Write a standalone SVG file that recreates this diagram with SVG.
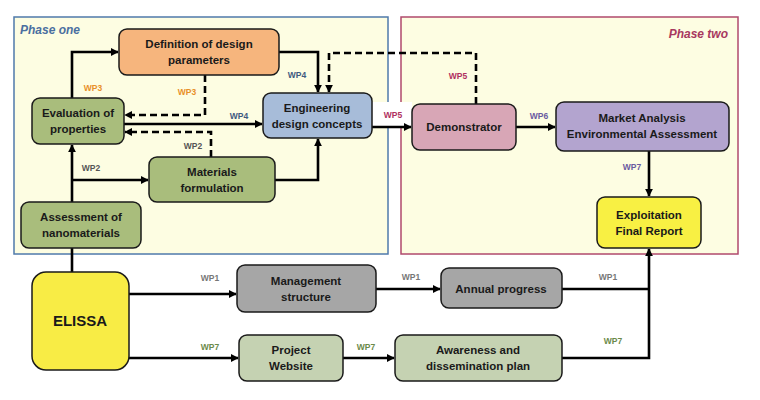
<svg xmlns="http://www.w3.org/2000/svg" width="760" height="400" viewBox="0 0 760 400">
<defs>
<marker id="ah" viewBox="0 0 10 10" refX="9" refY="5" markerWidth="3" markerHeight="3" orient="auto" markerUnits="strokeWidth">
<path d="M0,0 L10,5 L0,10 z" fill="#000"/>
</marker>
<style>
.node rect{stroke:#1a1a1a;stroke-width:1.5}
.node text{font-family:"Liberation Sans",Arial,sans-serif;font-weight:bold;font-size:11.5px;fill:#1a1a1a;text-anchor:middle}
.c{fill:none;stroke:#000;stroke-width:2.6}
.d{fill:none;stroke:#000;stroke-width:2.6;stroke-dasharray:7,4}
.a{marker-end:url(#ah)}
.wp{font-family:"Liberation Sans",Arial,sans-serif;font-weight:bold;font-size:8.5px;text-anchor:middle}
.phase{font-family:"Liberation Sans",Arial,sans-serif;font-style:italic;font-weight:bold;font-size:12px}
</style>
</defs>
<rect width="760" height="400" fill="#fff"/>
<g id="phase-one">
<rect x="14" y="17" width="374" height="237" fill="#fdfde2" stroke="#4f7aab" stroke-width="1.5"/>
<text class="phase" x="20" y="34" fill="#4a6fa0">Phase one</text>
</g>
<g id="phase-two">
<rect x="401" y="17" width="337" height="237" fill="#fdfde2" stroke="#b04a6c" stroke-width="1.5"/>
<text class="phase" x="728" y="38" fill="#a8385e" text-anchor="end">Phase two</text>
</g>
<g id="connectors">
<rect x="372" y="102" width="40" height="26" fill="#fff"/>
<path class="c" d="M72,272 V202"/>
<path class="c a" d="M72,202 V145"/>
<path class="c a" d="M72,180 H148"/>
<path class="c a" d="M72,98 V52 H118"/>
<path class="c a" d="M279,52 H318 V92"/>
<path class="d a" d="M205,75 V115 H125"/>
<path class="c a" d="M124,124 H262"/>
<path class="d a" d="M211,157 V132 H125"/>
<path class="c a" d="M275,180 H318 V139"/>
<path class="c a" d="M372,127 H411"/>
<path class="d a" d="M476,104 V53 H329 V92"/>
<path class="c a" d="M516,127 H555"/>
<path class="c a" d="M649,151 V196"/>
<path class="c a" d="M129,294 H236"/>
<path class="c a" d="M376,289 H440"/>
<path class="c" d="M562,289 H649"/>
<path class="c a" d="M562,358 H649 V249"/>
<path class="c a" d="M129,358 H238"/>
<path class="c a" d="M343,358 H394"/>
<text class="wp" x="91" y="171" fill="#555">WP2</text>
<text class="wp" x="93" y="91" fill="#e8902a">WP3</text>
<text class="wp" x="187" y="95" fill="#e8902a">WP3</text>
<text class="wp" x="297" y="78" fill="#3d5a80">WP4</text>
<text class="wp" x="239" y="119" fill="#3d5a80">WP4</text>
<text class="wp" x="193" y="149" fill="#555">WP2</text>
<text class="wp" x="393" y="118" fill="#b03060">WP5</text>
<text class="wp" x="458" y="79" fill="#b03060">WP5</text>
<text class="wp" x="539" y="119" fill="#6a5aa0">WP6</text>
<text class="wp" x="632" y="170" fill="#6a5aa0">WP7</text>
<text class="wp" x="210" y="281" fill="#777">WP1</text>
<text class="wp" x="411" y="280" fill="#777">WP1</text>
<text class="wp" x="608" y="280" fill="#777">WP1</text>
<text class="wp" x="210" y="350" fill="#6b8a4a">WP7</text>
<text class="wp" x="366" y="350" fill="#6b8a4a">WP7</text>
<text class="wp" x="613" y="344" fill="#6b8a4a">WP7</text>
</g>
<g id="definition" class="node">
<rect x="119" y="29" width="160" height="46" rx="8" fill="#f6b57d"/>
<text x="199" y="48">Definition of design</text>
<text x="199" y="64">parameters</text>
</g>
<g id="evaluation" class="node">
<rect x="32" y="98" width="92" height="46" rx="8" fill="#a9bd7c"/>
<text x="78" y="117">Evaluation of</text>
<text x="78" y="133">properties</text>
</g>
<g id="engineering" class="node">
<rect x="263" y="93" width="109" height="45" rx="8" fill="#a7bcd9"/>
<text x="317" y="112">Engineering</text>
<text x="317" y="128">design concepts</text>
</g>
<g id="materials" class="node">
<rect x="149" y="157" width="126" height="45" rx="8" fill="#a9bd7c"/>
<text x="212" y="176">Materials</text>
<text x="212" y="192">formulation</text>
</g>
<g id="assessment" class="node">
<rect x="21" y="202" width="120" height="46" rx="8" fill="#a9bd7c"/>
<text x="81" y="221">Assessment of</text>
<text x="81" y="237">nanomaterials</text>
</g>
<g id="demonstrator" class="node">
<rect x="412" y="104" width="104" height="46" rx="8" fill="#d8a6b6"/>
<text x="464" y="131">Demonstrator</text>
</g>
<g id="market" class="node">
<rect x="556" y="102" width="173" height="49" rx="8" fill="#b3a4cf"/>
<text x="642" y="122">Market Analysis</text>
<text x="642" y="138">Environmental Assessment</text>
</g>
<g id="exploitation" class="node">
<rect x="597" y="197" width="104" height="51" rx="8" fill="#f8f043"/>
<text x="649" y="219">Exploitation</text>
<text x="649" y="235">Final Report</text>
</g>
<g id="elissa" class="node">
<rect x="32" y="272" width="97" height="98" rx="14" fill="#f8ec45"/>
<text x="80" y="326" style="font-size:15px">ELISSA</text>
</g>
<g id="management" class="node">
<rect x="237" y="265" width="139" height="47" rx="8" fill="#a6a6a6"/>
<text x="306" y="285">Management</text>
<text x="306" y="301">structure</text>
</g>
<g id="annual" class="node">
<rect x="441" y="268" width="121" height="40" rx="8" fill="#a6a6a6"/>
<text x="501" y="293">Annual progress</text>
</g>
<g id="website" class="node">
<rect x="239" y="335" width="104" height="46" rx="8" fill="#c5d2b2"/>
<text x="291" y="354">Project</text>
<text x="291" y="370">Website</text>
</g>
<g id="awareness" class="node">
<rect x="395" y="335" width="167" height="46" rx="8" fill="#c5d2b2"/>
<text x="478" y="354">Awareness and</text>
<text x="478" y="370">dissemination plan</text>
</g>
</svg>
